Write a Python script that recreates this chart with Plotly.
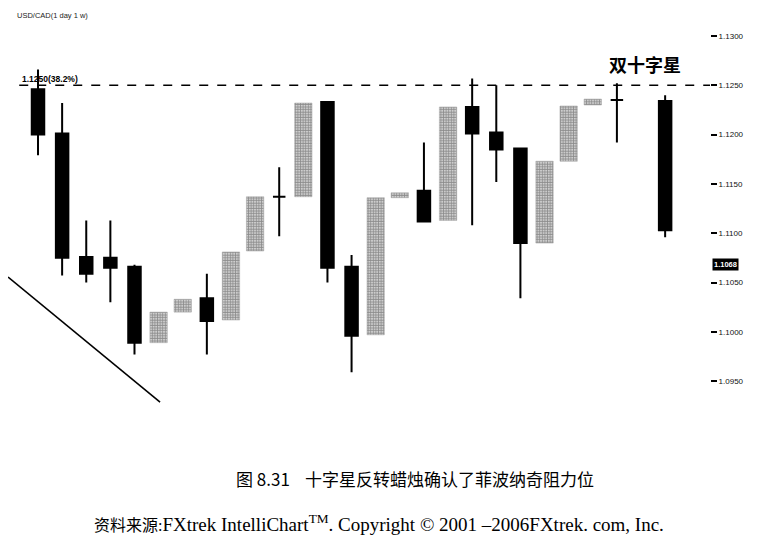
import plotly.graph_objects as go

# ---- data (USD/CAD daily) ----
days = [0, 1, 2, 3, 4, 5, 6, 7, 8, 9, 10, 11, 12, 13, 14, 15, 16, 17, 18, 19, 20, 21, 22, 23, 24, 26]
opens = [1.1246, 1.1201, 1.1076, 1.1075, 1.1066, 1.0989, 1.1020, 1.1034, 1.1012, 1.1082, 1.1137, 1.1137, 1.1233,
         1.1066, 1.0997, 1.1136, 1.1143, 1.1113, 1.1228, 1.1202, 1.1186, 1.1090, 1.1173, 1.1230, 1.1235, 1.1234]
highs = [1.1266, 1.1232, 1.1113, 1.1113, 1.1068, 1.1020, 1.1033, 1.1059, 1.1081, 1.1137, 1.1167, 1.1232, 1.1234,
         1.1078, 1.1136, 1.1141, 1.1192, 1.1228, 1.1257, 1.1250, 1.1187, 1.1173, 1.1229, 1.1236, 1.1252, 1.1240]
lows = [1.1179, 1.1057, 1.1050, 1.1030, 1.0977, 1.0989, 1.1020, 1.0977, 1.1012, 1.1082, 1.1097, 1.1137, 1.1050,
        1.0959, 1.0997, 1.1136, 1.1112, 1.1113, 1.1108, 1.1152, 1.1034, 1.1090, 1.1173, 1.1230, 1.1192, 1.1096]
closes = [1.1200, 1.1075, 1.1059, 1.1065, 1.0989, 1.1020, 1.1033, 1.1011, 1.1081, 1.1137, 1.1137, 1.1232, 1.1065,
          1.0996, 1.1136, 1.1141, 1.1112, 1.1228, 1.1201, 1.1185, 1.1090, 1.1173, 1.1229, 1.1236, 1.1235, 1.1103]

tick_vals = [1.0950, 1.1000, 1.1050, 1.1100, 1.1150, 1.1200, 1.1250, 1.1300]
fib_level = 1.1250
fib_label = "1.1250(38.2%)"
last_price = 1.1068
last_label = "1.1068"
title_label = "USD/CAD(1 day 1 w)"
doji_note = "双十字星"
trend_x = [-1.24, 5.06]
trend_y = [1.10556, 1.09288]

# split into dark (bearish / doji) and stippled (bullish) candles
dark = [i for i in range(len(days)) if closes[i] <= opens[i]]
light = [i for i in range(len(days)) if closes[i] > opens[i]]

fig = go.Figure()

fig.add_trace(go.Scatter(x=trend_x, y=trend_y, mode="lines", cliponaxis=False,
                         line=dict(color="black", width=1.6), hoverinfo="skip", showlegend=False))

fig.add_trace(go.Bar(
    x=[days[i] for i in light],
    base=[opens[i] for i in light],
    y=[closes[i] - opens[i] for i in light],
    width=0.72,
    marker=dict(color="white", line=dict(color="#a0a0a0", width=0.5),
                pattern=dict(shape=".", fgcolor="#1a1a1a", bgcolor="white", size=2.6, solidity=0.72)),
    showlegend=False,
))

style = dict(line=dict(color="black", width=2), fillcolor="black")
fig.add_trace(go.Candlestick(
    x=[days[i] for i in dark],
    open=[opens[i] for i in dark],
    high=[highs[i] for i in dark],
    low=[lows[i] for i in dark],
    close=[closes[i] for i in dark],
    increasing=style, decreasing=style, whiskerwidth=0, showlegend=False,
))

fig.add_shape(type="line", xref="paper", x0=0.016, x1=1.0, yref="y", y0=fib_level, y1=fib_level,
              line=dict(color="black", width=1.5, dash="dash"))

fig.add_annotation(x=-0.75, y=fib_level, xref="x", yref="y", text="<b>" + fib_label + "</b>",
                   showarrow=False, xanchor="left", yanchor="bottom", yshift=-1,
                   font=dict(family="Arial", size=8.5, color="black"))
fig.add_annotation(x=0.01, y=1.0125, xref="paper", yref="paper", text=title_label,
                   showarrow=False, xanchor="left", yanchor="middle",
                   font=dict(family="Arial", size=7.5, color="#222"))
fig.add_annotation(x=25.17, y=1.1272, xref="x", yref="y", text="<b>" + doji_note + "</b>",
                   showarrow=False, xanchor="center", yanchor="middle",
                   font=dict(family="Noto Sans CJK SC", size=18, color="black"))
fig.add_annotation(x=1.0, y=last_price, xref="paper", yref="y", text="<b>" + last_label + "</b>",
                   showarrow=False, xanchor="left", xshift=2, bgcolor="black",
                   font=dict(family="Arial", size=7.5, color="white"), borderpad=1)

fig.add_annotation(x=0.580, y=-0.145, xref="paper", yref="paper",
                   text="图 8.31    十字星反转蜡烛确认了菲波纳奇阻力位",
                   showarrow=False, xanchor="center", yanchor="middle",
                   font=dict(family="Noto Sans CJK SC", size=17, color="black"))
fig.add_annotation(x=0.5285, y=-0.2575, xref="paper", yref="paper",
                   text=("<span style='font-size:16px'>资料来源:</span>"
                         "FXtrek IntelliChart<sup>TM</sup>. Copyright © 2001 –2006FXtrek. com, Inc."),
                   showarrow=False, xanchor="center", yanchor="middle",
                   font=dict(family="Liberation Serif, Noto Sans CJK SC", size=19, color="black"))

fig.update_layout(
    width=760, height=542,
    margin=dict(l=0, r=58, t=12, b=130),
    paper_bgcolor="white", plot_bgcolor="white",
    boxgap=0.26,
    xaxis=dict(range=[-1.244, 27.86], visible=False, rangeslider=dict(visible=False)),
    yaxis=dict(range=[1.09106, 1.13162], side="right", tickvals=tick_vals, tickformat=".4f",
               showgrid=False, zeroline=False, showline=False,
               ticks="outside", ticklen=6, tickwidth=1.5, tickcolor="black",
               tickfont=dict(family="Arial", size=8, color="#111")),
    showlegend=False,
)

fig.write_html("out.html")
